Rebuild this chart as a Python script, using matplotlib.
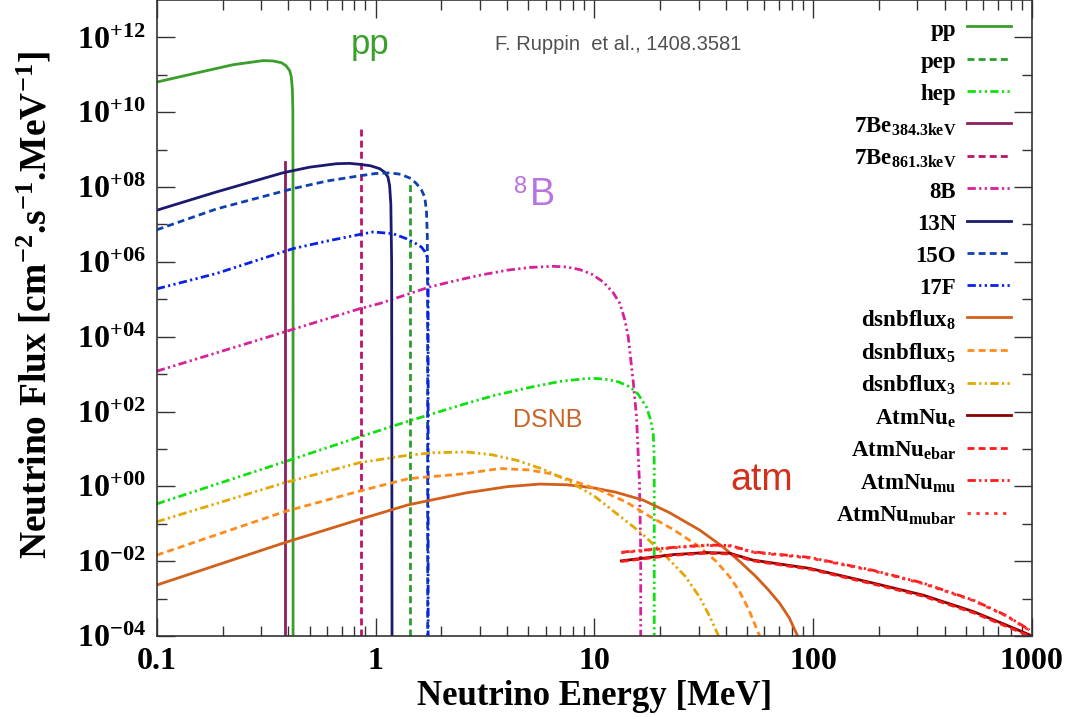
import numpy as np
import matplotlib
matplotlib.use("Agg")
import matplotlib.pyplot as plt
from matplotlib.ticker import FixedLocator, FuncFormatter, NullFormatter

# solar neutrino spectra [MeV], [cm-2 s-1 MeV-1]
pp_E = [0.1, 0.157, 0.223, 0.306, 0.34, 0.372, 0.39, 0.405, 0.412, 0.417, 0.419, 0.4199, 0.42]
pp_F = [6.4e10, 1.17e11, 1.86e11, 2.4e11, 2.35e11, 2.1e11, 1.75e11, 1.3e11, 9e10, 4e10, 1.1e10, 1e7, 1e-4]

pep_E = 1.442
pep_F = 1.44e8
be7a_E = 0.3843
be7a_F = 4.6e8
be7b_E = 0.8613
be7b_F = 4.2e9

hep_E = [0.1, 0.383, 0.847, 1.41, 2.6, 3.5, 5.25, 7.0, 9.2, 10.2, 11.4, 12.9, 14.5, 15.8, 17.3, 18.1, 18.6, 18.75, 18.8, 18.8]
hep_F = [0.34, 4.5, 21, 55, 164, 270, 460, 640, 760, 765, 720, 620, 460, 300, 133, 60, 26, 9, 3.3, 1e-4]

b8_E = [0.1, 0.296, 0.847, 1.045, 1.77, 2.3, 3.0, 4.0, 5.07, 6.48, 7.5, 8.6, 9.8, 11.0, 12.2, 13.1, 13.8, 14.3, 15.1,
        15.6, 16.1, 16.3, 16.3]
b8_F = [1.2e3, 8.4e3, 5.6e4, 7.7e4, 2.14e5, 3.1e5, 4.4e5, 6.0e5, 7.1e5, 7.6e5, 7.3e5, 6.2e5, 4.6e5, 2.9e5, 1.5e5,
        7.7e4, 2.8e4, 9.8e3, 5.6e2, 72, 1.2, 0.02, 1e-4]

n13_E = [0.1, 0.1875, 0.377, 0.5, 0.662, 0.76, 0.847, 0.95, 1.045, 1.1, 1.14, 1.16, 1.175, 1.185, 1.19]
n13_F = [2.4e7, 7.4e7, 2.4e8, 3.4e8, 4.2e8, 4.3e8, 4.05e8, 3.7e8, 3.1e8, 2.5e8, 1.85e8, 1.1e8, 3.5e7, 1e6, 1e-4]

o15_E = [0.1, 0.1875, 0.42, 0.6, 0.847, 1.0, 1.16, 1.3, 1.45, 1.54, 1.62, 1.68, 1.71, 1.725, 1.73, 1.732]
o15_F = [7.2e6, 2.6e7, 9.1e7, 1.45e8, 2.0e8, 2.3e8, 2.4e8, 2.2e8, 1.7e8, 1.23e8, 8.5e7, 5.4e7, 2.2e7, 5e6, 1e5, 1e-4]

f17_E = [0.1, 0.1875, 0.42, 0.6, 0.847, 0.975, 1.2, 1.38, 1.5, 1.62, 1.68, 1.72, 1.74, 1.74]
f17_F = [1.9e5, 4.9e5, 2.26e6, 3.6e6, 5.4e6, 6.3e6, 5.7e6, 4.2e6, 3.3e6, 2.5e6, 1.9e6, 1.35e6, 3e5, 1e-4]

# diffuse supernova background, T = 8, 5, 3 MeV
dsnb8_E = [0.1, 0.383, 0.847, 1.41, 2.6, 4.0, 5.63, 7.5, 9.9, 12.5, 16.7, 22, 30.3, 38.8, 47, 55, 62, 70.5, 78, 85]
dsnb8_F = [2.3e-3, 0.031, 0.131, 0.32, 0.67, 0.98, 1.15, 1.1, 0.91, 0.7, 0.43, 0.2, 0.068, 0.024, 9e-3, 3.8e-3,
           1.8e-3, 7.4e-4, 3e-4, 1e-4]

dsnb5_E = [0.1, 0.383, 0.847, 1.41, 2.6, 3.7, 5.0, 6.27, 8.0, 10.6, 14.0, 18.0, 23, 30.3, 36, 41.6, 46, 51, 57]
dsnb5_F = [0.0145, 0.21, 0.75, 1.6, 2.2, 3.0, 2.75, 2.2, 1.4, 0.79, 0.38, 0.155, 0.07, 0.024, 0.01, 3.8e-3,
           1.6e-3, 4.9e-4, 1e-4]

dsnb3_E = [0.1, 0.383, 0.847, 1.41, 1.83, 2.6, 3.4, 4.4, 5.8, 7.5, 10.0, 12.6, 16.5, 21.4, 26, 30.3, 34, 37]
dsnb3_F = [0.113, 1.24, 4.3, 6.8, 7.9, 8.3, 7.0, 5.0, 2.9, 1.47, 0.55, 0.19, 0.055, 0.013, 4e-3, 1.1e-3, 3e-4, 1e-4]

# atmospheric neutrinos
atm_E = [13.3, 23, 32.6, 41.6, 53, 96.6, 188, 318, 540, 766, 977]
atm_e = [0.0102, 0.015, 0.017, 0.0163, 0.0107, 6.4e-3, 2.6e-3, 1.24e-3, 4.5e-4, 1.95e-4, 1.07e-4]
atm_ebar = [0.0098, 0.0144, 0.0163, 0.0156, 0.0102, 6.1e-3, 2.45e-3, 1.16e-3, 4.2e-4, 1.8e-4, 1.0e-4]
atm_mu = [0.0173, 0.0234, 0.027, 0.0263, 0.0178, 0.0126, 5.7e-3, 2.6e-3, 9.1e-4, 3.5e-4, 1.45e-4]
atm_mubar = [0.0168, 0.0228, 0.0262, 0.0255, 0.0172, 0.0121, 5.5e-3, 2.5e-3, 8.8e-4, 3.4e-4, 1.4e-4]

plt.rcParams["font.family"] = ["Liberation Serif", "DejaVu Serif"]
plt.rcParams["font.weight"] = "bold"
plt.rcParams["axes.labelweight"] = "bold"
plt.rcParams["mathtext.fontset"] = "custom"
plt.rcParams["mathtext.rm"] = "Liberation Serif:bold"
plt.rcParams["mathtext.it"] = "Liberation Serif:bold"
plt.rcParams["mathtext.bf"] = "Liberation Serif:bold"

dash = (2.5, 1.5)
ddot = (3, 1.2, 0.8, 1.2, 0.8, 1.2)
dots = (1.2, 2.0)

fig = plt.figure(figsize=(10.67, 7.17), dpi=100)
ax = fig.add_axes([0.1469, 0.113, 0.8201, 0.887])

lw = 2
ax.plot(pp_E, pp_F, color="#3a9e2a", lw=lw, label="pp")
ax.plot([pep_E, pep_E], [1e-4, pep_F], color="#2a9e2a", lw=lw, dashes=dash, label="pep")
ax.plot(hep_E, hep_F, color="#10e010", lw=lw, dashes=ddot, label="hep")
ax.plot([be7a_E, be7a_E], [1e-4, be7a_F], color="#8e1f5e", lw=lw, label=r"7Be$_{384.3keV}$")
ax.plot([be7b_E, be7b_E], [1e-4, be7b_F], color="#c0106a", lw=lw, dashes=dash, label=r"7Be$_{861.3keV}$")
ax.plot(b8_E, b8_F, color="#d6229a", lw=lw, dashes=ddot, label="8B")
ax.plot(n13_E, n13_F, color="#1c1a6e", lw=lw, label="13N")
ax.plot(o15_E, o15_F, color="#1040b0", lw=lw, dashes=dash, label="15O")
ax.plot(f17_E, f17_F, color="#0a22e6", lw=lw, dashes=ddot, label="17F")
ax.plot(dsnb8_E, dsnb8_F, color="#d2601a", lw=lw, label=r"dsnbflux$_8$")
ax.plot(dsnb5_E, dsnb5_F, color="#ff8c1a", lw=lw, dashes=dash, label=r"dsnbflux$_5$")
ax.plot(dsnb3_E, dsnb3_F, color="#e2a800", lw=lw, dashes=ddot, label=r"dsnbflux$_3$")
ax.plot(atm_E, atm_e, color="#8b0000", lw=lw, label=r"AtmNu$_e$")
ax.plot(atm_E, atm_ebar, color="#ff1a1a", lw=lw, dashes=dash, label=r"AtmNu$_{ebar}$")
ax.plot(atm_E, atm_mu, color="#ff1a1a", lw=lw, dashes=ddot, label=r"AtmNu$_{mu}$")
ax.plot(atm_E, atm_mubar, color="#ff3030", lw=lw, dashes=dots, label=r"AtmNu$_{mubar}$")

ax.set_xscale("log")
ax.set_yscale("log")
ax.set_xlim(0.1, 1000)
ax.set_ylim(1e-4, 1e13)

ax.xaxis.set_major_locator(FixedLocator([0.1, 1, 10, 100, 1000]))
ax.xaxis.set_major_formatter(FuncFormatter(lambda v, p: "%g" % v))
ax.xaxis.set_minor_locator(FixedLocator([m * 10.0**d for d in range(-1, 3) for m in range(2, 10)]))
ax.xaxis.set_minor_formatter(NullFormatter())

def ylab(v, pos):
    k = int(round(np.log10(v)))
    return r"$10^{%s%02d}$" % ("+" if k >= 0 else "-", abs(k))

ax.yaxis.set_major_locator(FixedLocator([10.0**k for k in range(-4, 13, 2)]))
ax.yaxis.set_major_formatter(FuncFormatter(ylab))
ax.yaxis.set_minor_locator(FixedLocator([10.0**k for k in range(-3, 13, 2)]))
ax.yaxis.set_minor_formatter(NullFormatter())

ax.tick_params(which="both", direction="in", top=True, right=True, colors="#333333", width=1)
ax.tick_params(which="major", length=13, labelsize=23, pad=8, labelcolor="black")
ax.tick_params(which="minor", length=7)
for s in ax.spines.values():
    s.set_linewidth(1.2)
    s.set_color("#333333")

ax.set_xlabel("Neutrino Energy [MeV]", fontsize=25, fontweight="bold", labelpad=3)
ax.set_ylabel(r"Neutrino Flux [cm$^{-2}$.s$^{-1}$.MeV$^{-1}$]", fontsize=27, fontweight="bold")
ax.yaxis.set_label_coords(-0.117, 0.52)

sans = "Liberation Sans"
ax.text(0.94, 6.3e11, "pp", color="#3aa02a", fontsize=25, family=sans, weight="normal", ha="center", va="center")
ax.text(3.51, 6.3e11, "F. Ruppin  et al., 1408.3581", color="#505050", fontsize=14.5, family=sans,
        weight="normal", ha="left", va="center")
ax.text(5.82, 6.2e7, "B", color="#b873e0", fontsize=27, family=sans, weight="normal", ha="center", va="center")
ax.text(4.61, 1.0e8, "8", color="#b873e0", fontsize=17, family=sans, weight="normal", ha="center", va="center")
ax.text(6.1, 59, "DSNB", color="#c8662a", fontsize=18, family=sans, weight="normal", ha="center", va="center")
ax.text(58.3, 1.48, "atm", color="#d2301a", fontsize=27, family=sans, weight="normal", ha="center", va="center")

ax.legend(loc="upper right", bbox_to_anchor=(0.992, 0.995), markerfirst=False, frameon=False,
          fontsize=16.5, handlelength=1.9, handletextpad=0.5, labelspacing=0.37, handleheight=1.1,
          borderaxespad=0.2)

fig.savefig("out.png", dpi=100)
